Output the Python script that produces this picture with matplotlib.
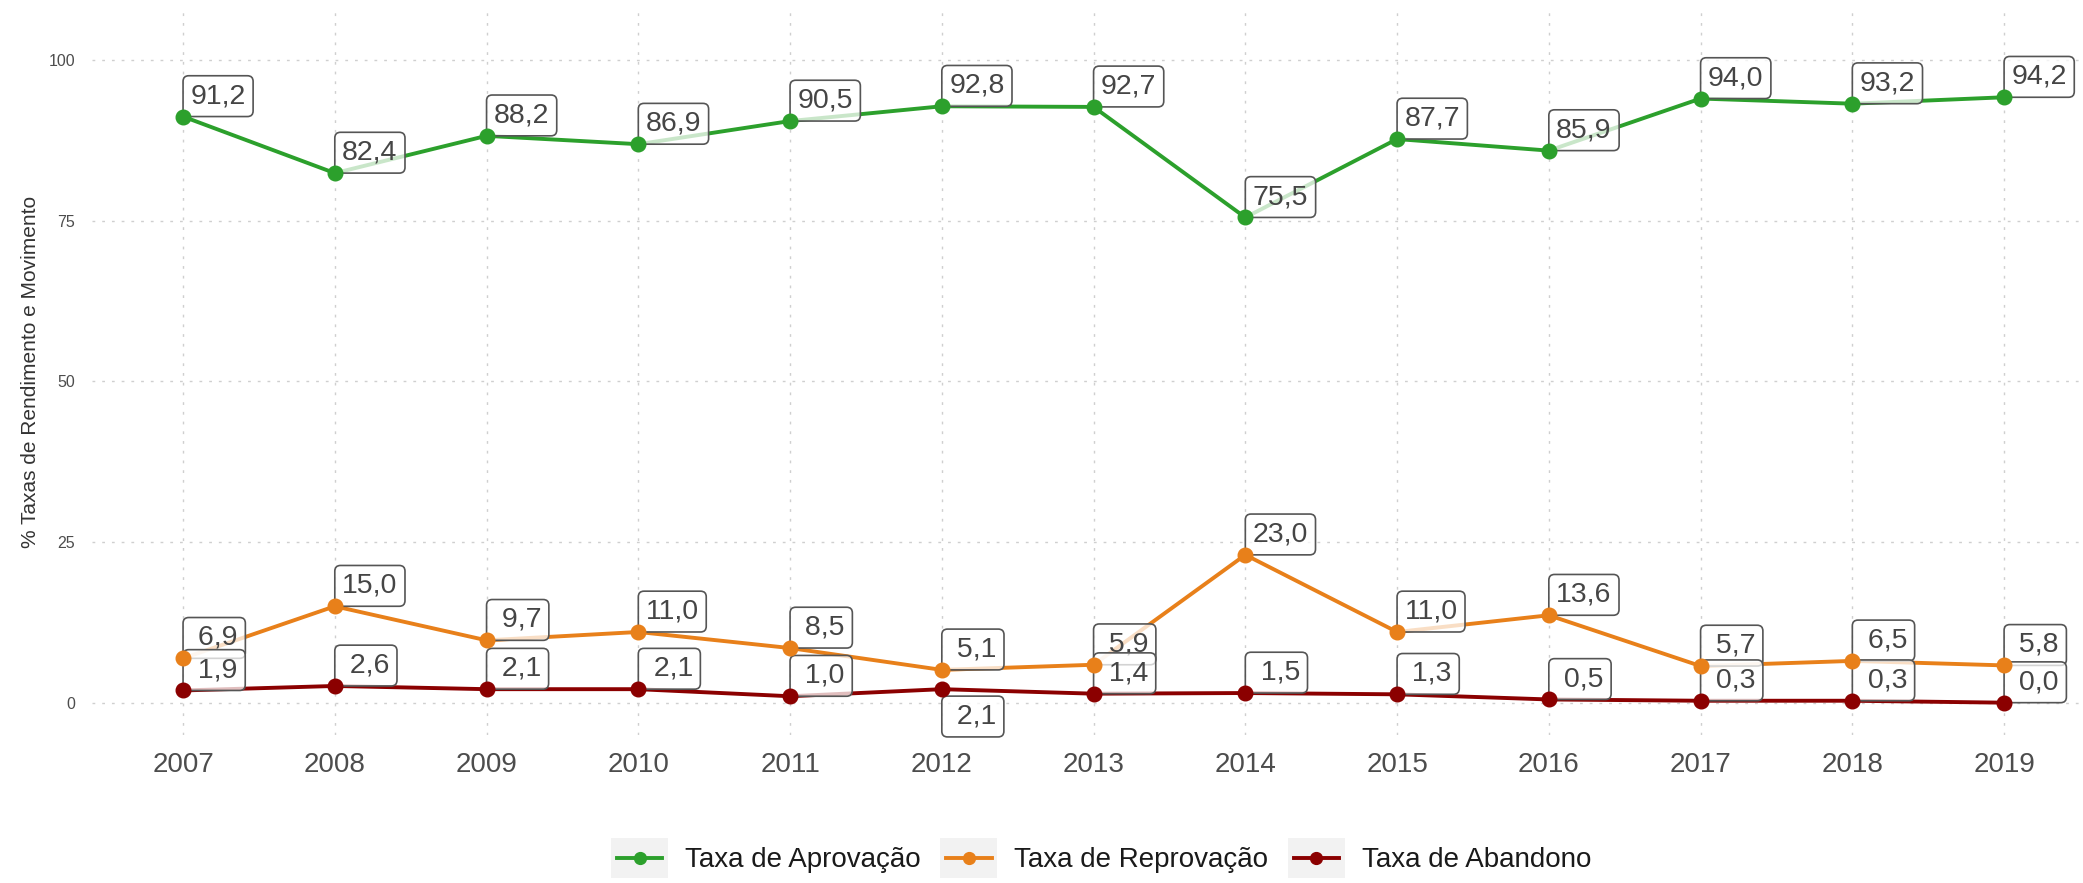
import matplotlib
matplotlib.use("Agg")
import matplotlib.pyplot as plt
from matplotlib.legend_handler import HandlerBase
from matplotlib.lines import Line2D
from matplotlib.patches import Rectangle

plt.rcParams["font.family"] = ["Liberation Sans", "DejaVu Sans"]

ANOS = [2007, 2008, 2009, 2010, 2011, 2012, 2013, 2014, 2015, 2016, 2017, 2018, 2019]
APROVACAO = [91.2, 82.4, 88.2, 86.9, 90.5, 92.8, 92.7, 75.5, 87.7, 85.9, 94.0, 93.2, 94.2]
REPROVACAO = [6.9, 15.0, 9.7, 11.0, 8.5, 5.1, 5.9, 23.0, 11.0, 13.6, 5.7, 6.5, 5.8]
ABANDONO = [1.9, 2.6, 2.1, 2.1, 1.0, 2.1, 1.4, 1.5, 1.3, 0.5, 0.3, 0.3, 0.0]

SERIES = [
    ("Taxa de Aprovação", APROVACAO, "#2CA02C"),
    ("Taxa de Reprovação", REPROVACAO, "#E8801A"),
    ("Taxa de Abandono", ABANDONO, "#8B0000"),
]
Y_TICKS = [0, 25, 50, 75, 100]
# rótulo que vai abaixo do ponto para não bater no de reprovação
ROTULO_ABAIXO = {("Taxa de Abandono", 2012)}

TXT = "#4D4D4D"


class ChaveLegenda(HandlerBase):
    """Chave no estilo ggplot: fundo cinza, linha e ponto."""

    def create_artists(self, legend, orig_handle, xdescent, ydescent,
                       width, height, fontsize, trans):
        fundo = Rectangle((-xdescent, -ydescent), width, height,
                          facecolor="#F2F2F2", edgecolor="none", transform=trans)
        ym = -ydescent + height / 2
        x0 = -xdescent + 0.1 * width
        x1 = -xdescent + 0.9 * width
        cor = orig_handle.get_color()
        linha = Line2D([x0, x1], [ym, ym], color=cor,
                       lw=orig_handle.get_linewidth(), transform=trans)
        ponto = Line2D([(x0 + x1) / 2], [ym], color=cor, marker="o",
                       ms=orig_handle.get_markersize(), linestyle="none",
                       transform=trans)
        return [fundo, linha, ponto]


W, H = 2083, 883
fig = plt.figure(figsize=(W / 100, H / 100), dpi=100)
ax = fig.add_axes([92 / W, 148 / H, (W - 92) / W, 727 / H])

ax.set_xlim(2006.4, 2019.52)
ax.set_ylim(-5.03, 108.09)
for sp in ax.spines.values():
    sp.set_visible(False)
ax.set_axisbelow(True)
ax.grid(True, color="#CFCFCF", lw=1.0, linestyle=(0, (2, 5)))

ax.set_xticks(ANOS)
ax.set_xticklabels([str(a) for a in ANOS])
ax.set_yticks(Y_TICKS)
ax.tick_params(length=0)
ax.tick_params(axis="x", labelsize=20, labelcolor=TXT, pad=12)
ax.tick_params(axis="y", labelsize=11.5, labelcolor=TXT, pad=12)
ax.set_ylabel("% Taxas de Rendimento e Movimento", fontsize=15,
              color="#333333", labelpad=6)

# linhas primeiro, depois rótulos, depois pontos por cima
for nome, valores, cor in SERIES:
    ax.plot(ANOS, valores, color=cor, lw=2.8, zorder=2)

FS_ROTULO = 20.5
PAD = 0.26
off = PAD * FS_ROTULO
for nome, valores, cor in SERIES:
    for ano, v in zip(ANOS, valores):
        rot = f"{v:4.1f}".replace(".", ",")
        if (nome, ano) in ROTULO_ABAIXO:
            xy_txt, va = (off, -off - 5), "top"
        else:
            xy_txt, va = (off, off), "bottom"
        ax.annotate(rot, (ano, v), xytext=xy_txt, textcoords="offset points",
                    ha="left", va=va, fontsize=FS_ROTULO, color="#454545",
                    annotation_clip=False, zorder=3,
                    bbox=dict(boxstyle=f"round,pad={PAD},rounding_size=0.2",
                              fc=(1, 1, 1, 0.75), ec="#555555", lw=1.2))

for nome, valores, cor in SERIES:
    ax.plot(ANOS, valores, color=cor, lw=0, marker="o", ms=10.5, zorder=4)

handles = [Line2D([], [], color=cor, lw=2.8, marker="o", ms=8.5)
           for _, _, cor in SERIES]
fig.legend(handles, [s[0] for s in SERIES], loc="center",
           bbox_to_anchor=(1101 / W, 25 / H), ncol=3, frameon=False,
           fontsize=20, labelcolor="#1A1A1A", handlelength=2.05,
           handleheight=1.8, handletextpad=0.6, columnspacing=0.72,
           borderpad=0, handler_map={Line2D: ChaveLegenda()})

fig.savefig("out.png", dpi=100)
plt.close(fig)
